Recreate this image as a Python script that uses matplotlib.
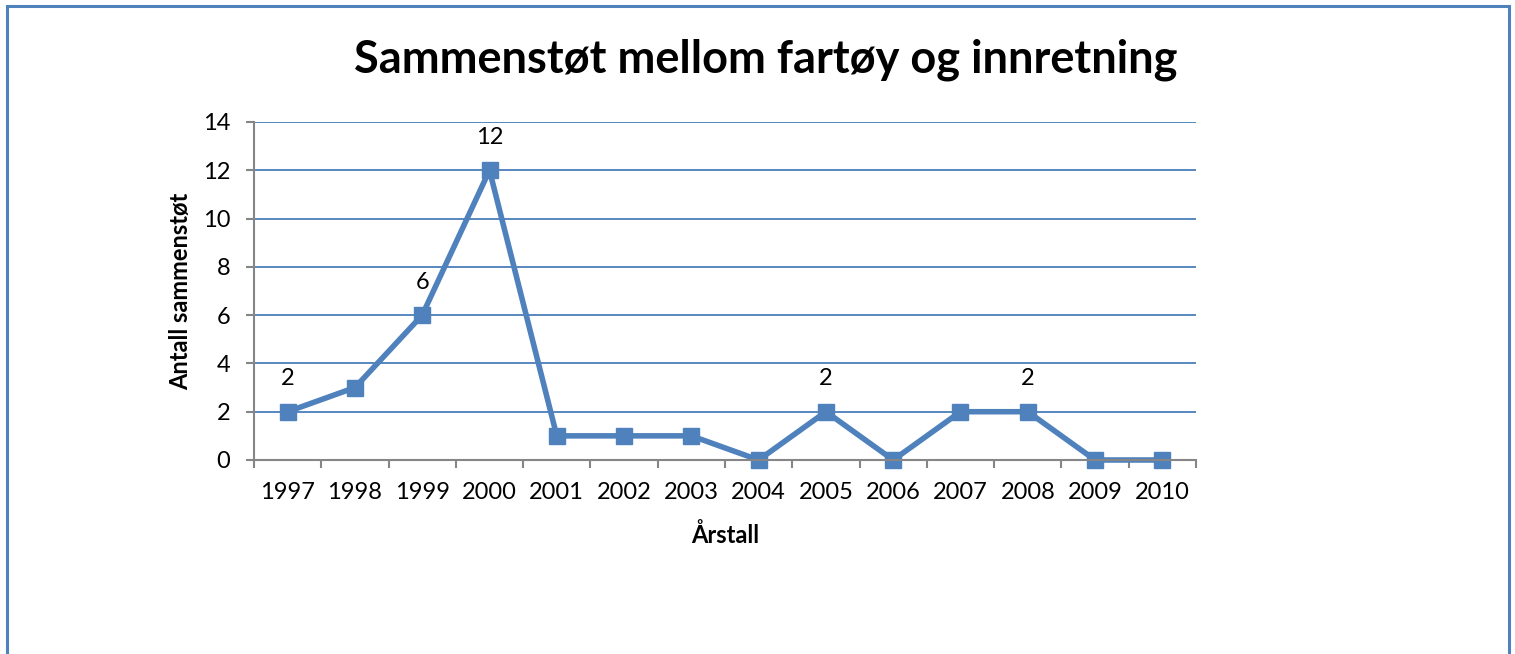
import matplotlib
matplotlib.use("Agg")
import matplotlib.pyplot as plt
from matplotlib.patches import Rectangle

# Data
years = ["1997", "1998", "1999", "2000", "2001", "2002", "2003",
         "2004", "2005", "2006", "2007", "2008", "2009", "2010"]
counts = [2, 3, 6, 12, 1, 1, 1, 0, 2, 0, 2, 2, 0, 0]
labelled_years = ["1997", "1999", "2000", "2005", "2008"]

LINE_COLOR = "#4f81bd"
GRID_COLOR = "#4a7ebb"
AXIS_GRAY = "#868686"

plt.rcParams["font.family"] = ["Lato", "DejaVu Sans"]

fig = plt.figure(figsize=(15.15, 6.54), dpi=100)
ax = fig.add_axes([254 / 1515, 1 - 460 / 654, (1196 - 254) / 1515, (460 - 122) / 654])

xpos = [i + 0.5 for i in range(len(years))]
ax.plot(xpos, counts, color=LINE_COLOR, linewidth=4, marker="s",
        markersize=11, markerfacecolor=LINE_COLOR, markeredgecolor=LINE_COLOR,
        zorder=3, clip_on=False)

for x, y, yr in zip(xpos, counts, years):
    if yr in labelled_years:
        ax.annotate(str(y), (x, y), xytext=(0, 16), textcoords="offset points",
                    ha="center", va="bottom", fontsize=17)

ax.set_xlim(0, len(years))
ax.set_ylim(0, 14)
ax.set_yticks(range(0, 15, 2))
ax.set_xticks(range(0, len(years) + 1))
ax.set_xticklabels([])
ax.set_xticks(xpos, minor=True)
ax.set_xticklabels(years, minor=True)
ax.tick_params(axis="x", which="minor", length=0, pad=16, labelsize=17)
ax.tick_params(axis="x", which="major", length=6, width=1.5, color=AXIS_GRAY, direction="out")
ax.tick_params(axis="y", length=6, width=1.5, color=AXIS_GRAY, direction="out", labelsize=17, pad=11)

ax.grid(axis="y", color=GRID_COLOR, linewidth=1.3)
ax.set_axisbelow(True)
for side in ["top", "right"]:
    ax.spines[side].set_visible(False)
for side in ["left", "bottom"]:
    ax.spines[side].set_color(AXIS_GRAY)
    ax.spines[side].set_linewidth(1.5)
    ax.spines[side].set_zorder(4)

ax.set_xlabel("Årstall", fontsize=17, fontweight="bold", labelpad=14)
ax.set_ylabel("Antall sammenstøt", fontsize=17, fontweight="bold", labelpad=8)

fig.text(766 / 1515, 1 - 60 / 654, "Sammenstøt mellom fartøy og innretning",
         ha="center", va="center", fontsize=32.5, fontweight="bold")

# Chart-area border (bottom edge falls outside the image)
fig.patches.append(Rectangle((7 / 1515, -0.05), (1508.5 - 7) / 1515, 1 - 5.5 / 654 + 0.05,
                             transform=fig.transFigure, fill=False,
                             edgecolor=LINE_COLOR, linewidth=2.2))

fig.savefig("out.png", dpi=100)
